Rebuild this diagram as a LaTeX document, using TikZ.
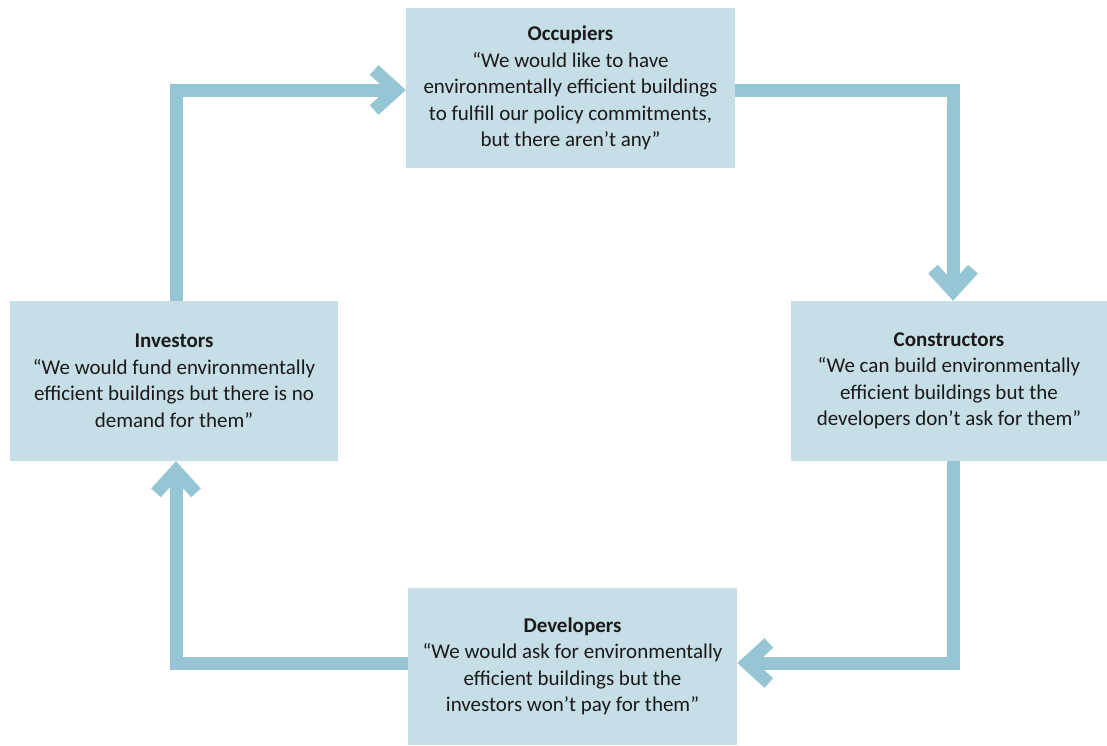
\documentclass[tikz,border=0pt]{standalone}
\usepackage{fontspec}
\setmainfont{Carlito}
\usetikzlibrary{arrows.meta}
\definecolor{boxfill}{HTML}{C6DEE6}
\definecolor{arrowcol}{HTML}{96C6D4}
\definecolor{txt}{HTML}{1A1A1A}
\tikzset{
  actor/.style={rectangle, fill=boxfill, inner sep=0pt, minimum width=329pt, minimum height=160pt,
    align=center, text=txt, font=\fontsize{21}{26.5}\selectfont},
  flow/.style={draw=arrowcol, line width=13pt, line join=miter,
    -{Straight Barb[length=22pt,width=40pt]}}
}
\begin{document}
\begin{tikzpicture}[x=1pt,y=-1pt]
\useasboundingbox (0,0) rectangle (1107,745);
\node[actor] (occ) at (570.5,88) {\textbf{Occupiers}\\“We would like to have\\environmentally efficient buildings\\to fulfill our policy commitments,\\but there aren’t any”};
\node[actor, minimum width=316pt] (con) at (949,381) {\textbf{Constructors}\\“We can build environmentally\\efficient buildings but the\\developers don’t ask for them”};
\node[actor, minimum width=328pt] (inv) at (174,381) {\textbf{Investors}\\“We would fund environmentally\\efficient buildings but there is no\\demand for them”};
\node[actor, minimum height=157pt] (dev) at (572.5,666.5) {\textbf{Developers}\\“We would ask for environmentally\\efficient buildings but the\\investors won’t pay for them”};
\draw[flow] ([xshift=2pt]inv.north) |- ([yshift=-2pt]occ.west);
\draw[flow] ([yshift=-2pt]occ.east) -| ([xshift=4pt]con.north);
\draw[flow] ([xshift=4pt]con.south) |- ([yshift=3.5pt]dev.east);
\draw[flow] ([yshift=3.5pt]dev.west) -| ([xshift=2pt]inv.south);
\end{tikzpicture}
\end{document}
